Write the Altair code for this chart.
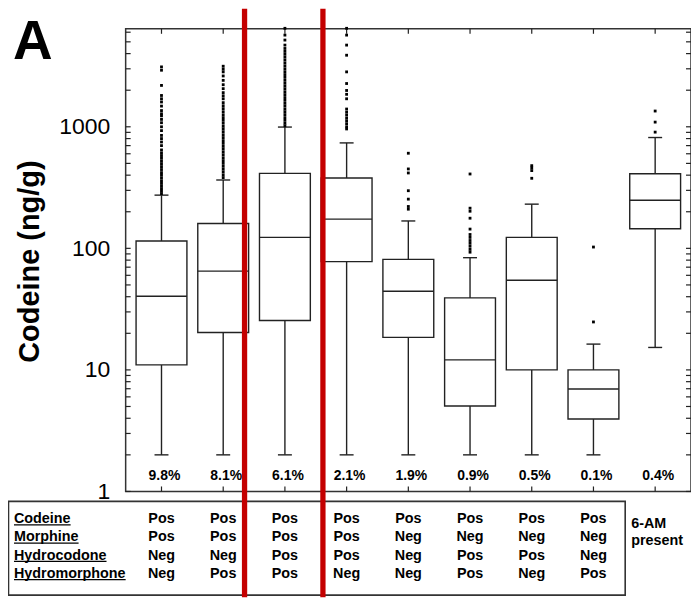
import altair as alt
import pandas as pd

# ---------------- data ----------------
groups = [1, 2, 3, 4, 5, 6, 7, 8, 9]
lower_whisker = [2, 2, 2, 2, 2, 2, 2, 2, 15.3]
q1 = [11.0, 20.3, 25.5, 77.7, 18.5, 5.04, 10.0, 3.94, 145]
median = [40.3, 64.9, 123, 174, 44.4, 12.1, 54.7, 6.97, 249]
q3 = [115, 160, 414, 379, 81.1, 39.1, 123, 10.0, 411]
upper_whisker = [274, 365, 995, 737, 168, 83.8, 231, 16.3, 816]
percent_labels = ["9.8%", "8.1%", "6.1%", "2.1%", "1.9%", "0.9%", "0.5%", "0.1%", "0.4%"]

outliers_1 = [3110, 2920, 2190, 1810, 1700, 1600, 1480, 1360, 1280, 1230, 1150, 1080, 1000,
              930, 850, 800, 750, 700, 645, 610, 580, 550, 520, 495, 470, 445, 420, 400, 380,
              360, 342, 325, 310, 295, 282]
outliers_2 = [3150, 2980, 2830, 2620, 2410, 2220, 2060, 1910, 1800, 1700, 1580, 1490, 1410,
              1330, 1256, 1190, 1130, 1070, 1010, 960, 910, 860, 815, 770, 730, 690, 655, 620,
              588, 556, 527, 500, 473, 448, 425, 402, 382]
outliers_3 = [6460, 5680, 5170, 4700, 4410, 4170, 3950, 3740, 3540, 3350, 3170, 3000, 2840,
              2690, 2550, 2410, 2280, 2160, 2050, 1940, 1840, 1740, 1650, 1560, 1480, 1400,
              1330, 1260, 1190, 1130, 1070, 1020]
outliers_4 = [6460, 5680, 4700, 3880, 2830, 2270, 1990, 1850, 1700, 1400, 1320, 1250, 1180,
              1120, 1060, 1000, 960]
outliers_5 = [606, 450, 417, 298, 254, 221, 210]
outliers_6 = [409, 214, 202, 177, 144, 130, 123, 116, 110, 104, 98, 93]
outliers_7 = [479, 458, 436, 377]
outliers_8 = [24.8, 102.5]
outliers_9 = [904, 1093, 1348]
all_outliers = [outliers_1, outliers_2, outliers_3, outliers_4, outliers_5,
                outliers_6, outliers_7, outliers_8, outliers_9]

row_names = ["Codeine", "Morphine", "Hydrocodone", "Hydromorphone"]
table_codeine = ["Pos", "Pos", "Pos", "Pos", "Pos", "Pos", "Pos", "Pos"]
table_morphine = ["Pos", "Pos", "Pos", "Pos", "Neg", "Neg", "Neg", "Neg"]
table_hydrocodone = ["Neg", "Neg", "Pos", "Pos", "Neg", "Pos", "Pos", "Neg"]
table_hydromorphone = ["Neg", "Pos", "Pos", "Neg", "Neg", "Pos", "Neg", "Pos"]
table_rows = [table_codeine, table_morphine, table_hydrocodone, table_hydromorphone]
last_group_note = ["6-AM", "present"]

divider_positions = [2.346, 3.616]

tick_values = [1, 2, 3, 4, 5, 6, 7, 8, 9,
               10, 20, 30, 40, 50, 60, 70, 80, 90,
               100, 200, 300, 400, 500, 600, 700, 800, 900,
               1000, 2000, 3000, 4000, 5000, 6000]
label_values = [1, 10, 100, 1000]

# ---------------- layout / style ----------------
W, H = 567, 464
FONT = "Liberation Sans"
LINE = "#222222"
LW = 1.4
RED = "#c40000"
TFS = 14.4  # table font size

stats = pd.DataFrame({"g": groups, "lower": lower_whisker, "q1": q1, "median": median,
                      "q3": q3, "upper": upper_whisker, "pct": percent_labels})
out_df = pd.DataFrame([{"g": g, "v": v} for g, vals in zip(groups, all_outliers) for v in vals])
ticks_df = pd.DataFrame({"t": tick_values})
div_df = pd.DataFrame({"d": divider_positions})
one = pd.DataFrame({"k": [0]})

x_scale = alt.Scale(domain=[0.5, 9.5], nice=False, zero=False)
y_scale = alt.Scale(type="log", domain=[1, 6400], nice=False)
y_axis = alt.Axis(values=label_values, ticks=False, domain=False, grid=False,
                  labelFontSize=23, labelFont=FONT, labelColor="black",
                  labelPadding=16, format="d", title=None)


def X(field):
    return alt.X(field, type="quantitative", scale=x_scale, axis=None)


def Y(field):
    return alt.Y(field, type="quantitative", scale=y_scale, axis=y_axis)


def Y2(field):
    return alt.Y2(field)


base = alt.Chart(stats)

whisk_lo = base.mark_rule(color=LINE, strokeWidth=LW).encode(x=X("g"), y=Y("lower"), y2=Y2("q1"))
whisk_hi = base.mark_rule(color=LINE, strokeWidth=LW).encode(x=X("g"), y=Y("q3"), y2=Y2("upper"))
cap_lo = base.mark_tick(orient="horizontal", size=14, thickness=LW, color=LINE, opacity=1).encode(
    x=X("g"), y=Y("lower"))
cap_hi = base.mark_tick(orient="horizontal", size=14, thickness=LW, color=LINE, opacity=1).encode(
    x=X("g"), y=Y("upper"))
boxes = base.mark_bar(size=51, fill="white", stroke=LINE, strokeWidth=LW).encode(
    x=X("g"), y=Y("q1"), y2=Y2("q3"))
medians = base.mark_tick(orient="horizontal", size=51, thickness=LW, color=LINE, opacity=1).encode(
    x=X("g"), y=Y("median"))
points = alt.Chart(out_df).mark_square(size=8, color="black", opacity=1).encode(
    x=X("g"), y=Y("v"))
pcts = base.mark_text(font=FONT, fontSize=14, fontWeight="bold", color="black",
                      baseline="alphabetic", align="center", dx=3).encode(
    x=X("g"), y=alt.value(452.7), text="pct:N")

# inward ticks on all four sides
tick_left = alt.Chart(ticks_df).mark_rule(color=LINE, strokeWidth=1.2).encode(
    y=Y("t"), x=alt.value(0), x2=alt.value(5))
tick_right = alt.Chart(ticks_df).mark_rule(color=LINE, strokeWidth=1.2).encode(
    y=Y("t"), x=alt.value(W), x2=alt.value(W - 5))
tick_top = base.mark_rule(color=LINE, strokeWidth=1.2).encode(
    x=X("g"), y=alt.value(0), y2=alt.value(5))
tick_bottom = base.mark_rule(color=LINE, strokeWidth=1.2).encode(
    x=X("g"), y=alt.value(H), y2=alt.value(H - 5))

# panel letter and axis title
letter = alt.Chart(one).mark_text(text="A", font=FONT, fontSize=55, fontWeight="bold",
                                  color="black", align="left", baseline="alphabetic").encode(
    x=alt.value(-113), y=alt.value(30))
ytitle = alt.Chart(one).mark_text(text="Codeine (ng/g)", font=FONT, fontSize=29, fontWeight="bold",
                                  color="black", angle=270, align="center", baseline="middle").encode(
    x=alt.value(-96), y=alt.value(233.5))

# table below the plot
table_box = alt.Chart(one).mark_rect(fill=None, stroke="#333333", strokeWidth=1.6).encode(
    x=alt.value(-117.5), x2=alt.value(501), y=alt.value(474), y2=alt.value(568))

char_w = {"C": 722, "o": 611, "d": 611, "e": 556, "i": 278, "n": 611, "M": 833, "r": 389,
          "p": 611, "h": 611, "H": 722, "y": 556, "c": 556, "m": 889}

row_baselines = [495.7, 514.0, 532.3, 550.6]
table_layers = []
for name, vals, yb in zip(row_names, table_rows, row_baselines):
    rdf = pd.DataFrame({"g": groups[:len(vals)], "txt": vals})
    table_layers.append(
        alt.Chart(rdf).mark_text(font=FONT, fontSize=TFS, fontWeight="bold", color="black",
                                 align="center", baseline="alphabetic").encode(
            x=X("g"), y=alt.value(yb), text="txt:N"))
    table_layers.append(
        alt.Chart(one).mark_text(text=name, font=FONT, fontSize=TFS, fontWeight="bold",
                                 color="black", align="left", baseline="alphabetic").encode(
            x=alt.value(-112), y=alt.value(yb)))
    w = sum(char_w[c] for c in name) / 1000 * TFS
    table_layers.append(
        alt.Chart(one).mark_rule(color="black", strokeWidth=1.3).encode(
            x=alt.value(-112), x2=alt.value(-112 + w), y=alt.value(yb + 1.8)))

note_layers = []
for txt, yb in zip(last_group_note, [500.3, 518.0]):
    note_layers.append(
        alt.Chart(one).mark_text(text=txt, font=FONT, fontSize=TFS, fontWeight="bold",
                                 color="black", align="left", baseline="alphabetic").encode(
            x=alt.value(507), y=alt.value(yb)))

dividers = alt.Chart(div_df).mark_rule(color=RED, strokeWidth=5.3).encode(
    x=X("d"), y=alt.value(-20), y2=alt.value(570))

chart = alt.layer(
    tick_left, tick_right, tick_top, tick_bottom,
    whisk_lo, whisk_hi, cap_lo, cap_hi, boxes, medians, points, pcts,
    letter, ytitle, table_box, *table_layers, *note_layers, dividers
).properties(
    width=W, height=H,
    padding={"left": 118, "top": 20, "right": 0, "bottom": 106},
    autosize=alt.AutoSizeParams(type="none"),
    background="white",
).configure_view(stroke="#333333", strokeWidth=1.5)

chart.save("out.html", embed_options={"renderer": "svg", "actions": False})
